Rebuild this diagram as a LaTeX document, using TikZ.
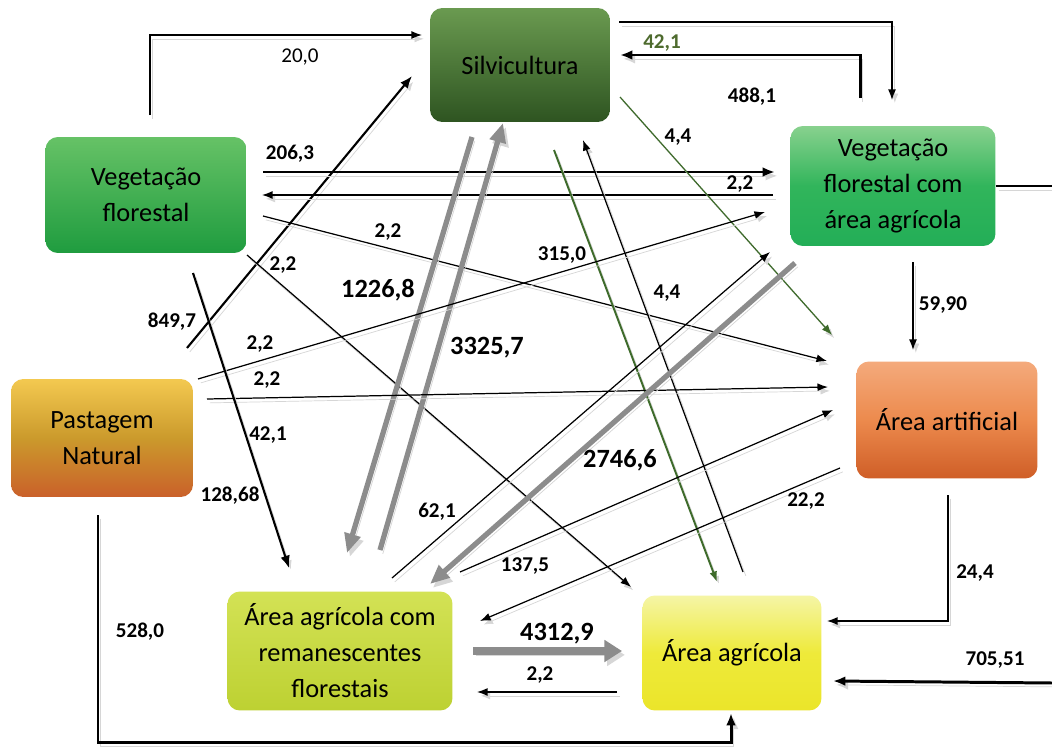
\documentclass[tikz,border=0pt]{standalone}
\usepackage{fontspec}
\setmainfont{Carlito}
\usetikzlibrary{arrows.meta}

\definecolor{silvtopo}{HTML}{6A9A50}
\definecolor{silvbase}{HTML}{2E5421}
\definecolor{vftopo}{HTML}{66C266}
\definecolor{vfbase}{HTML}{1F9C3F}
\definecolor{vfatopo}{HTML}{88D18E}
\definecolor{vfameio}{HTML}{31B55B}
\definecolor{vfabase}{HTML}{23AE57}
\definecolor{pasttopo}{HTML}{F3C950}
\definecolor{pastmeio}{HTML}{CB9A2C}
\definecolor{pastbase}{HTML}{CA602A}
\definecolor{arttopo}{HTML}{F4AA7C}
\definecolor{artmeio}{HTML}{EC8A4D}
\definecolor{artbase}{HTML}{CF5E27}
\definecolor{aremtopo}{HTML}{D3E255}
\definecolor{arembase}{HTML}{BDD132}
\definecolor{agrtopo}{HTML}{F5F5A6}
\definecolor{agrmeio}{HTML}{EEEA3A}
\definecolor{agrbase}{HTML}{EBE52A}
\definecolor{linhaverde}{HTML}{3E6B2B}
\definecolor{rotuloverde}{HTML}{4E6B2E}
\definecolor{cinzaseta}{HTML}{8C8C8C}

\tikzset{
	caixa/.style={rounded corners=7pt, align=center, inner sep=2pt, text=black,
		font=\fontsize{15}{20.5}\selectfont},
	rotulo/.style={font=\fontsize{12}{14}\selectfont\bfseries, inner sep=1pt},
	rotulogr/.style={font=\fontsize{15}{17}\selectfont\bfseries, inner sep=1pt},
	sombra/.style={preaction={draw=black!16, transform canvas={xshift=1.6pt,yshift=-2.2pt}}},
	fino/.style={sombra, line width=0.7pt, -{Latex[length=6pt,width=4.5pt]}},
	medio/.style={sombra, line width=1.2pt, -{Latex[length=7pt,width=5.5pt]}},
	grosso/.style={sombra, line width=1.7pt, -{Latex[length=7pt,width=5.5pt]}},
	verde/.style={fino, draw=linhaverde},
	cinza/.style={sombra, draw=cinzaseta, line width=3pt, -{Triangle[length=11pt,width=9pt]}},
}

\begin{document}
\begin{tikzpicture}[x=0.02cm, y=-0.02cm]
	\path[use as bounding box, fill=white] (0,0) rectangle (1052,747);

	% classes de uso
	\node[caixa, minimum width=3.6cm, minimum height=2.28cm, top color=silvtopo, bottom color=silvbase] (silv) at (520,65) {Silvicultura};
	\node[caixa, minimum width=4.02cm, minimum height=2.32cm, top color=vftopo, bottom color=vfbase] (vf) at (146,195) {Vegeta\c{c}\~ao\\florestal};
	\node[caixa, minimum width=4.1cm, minimum height=2.4cm, top color=vfatopo, bottom color=vfabase, middle color=vfameio] (vfa) at (893,186) {Vegeta\c{c}\~ao\\florestal com\\\'area agr\'icola};
	\node[caixa, minimum width=3.64cm, minimum height=2.36cm, top color=pasttopo, bottom color=pastbase, middle color=pastmeio] (past) at (102,438) {Pastagem\\Natural};
	\node[caixa, minimum width=3.62cm, minimum height=2.34cm, top color=arttopo, bottom color=artbase, middle color=artmeio] (art) at (947,420) {\'Area artificial};
	\node[caixa, minimum width=4.5cm, minimum height=2.38cm, top color=aremtopo, bottom color=arembase] (arem) at (340,651) {\'Area agr\'icola com\\remanescentes\\florestais};
	\node[caixa, minimum width=3.58cm, minimum height=2.3cm, top color=agrtopo, bottom color=agrbase, middle color=agrmeio] (agr) at (732,653) {\'Area agr\'icola};

	% pontas dos fluxos
	\coordinate (a20) at (150,115);   \coordinate (b20) at (422,35);
	\coordinate (a849) at (187,348);  \coordinate (b849) at (412,76);
	\coordinate (a206) at (263,172);  \coordinate (b206) at (775,172);
	\coordinate (a22v) at (773,195);  \coordinate (b22v) at (262,195);
	\coordinate (a22r) at (263,216);  \coordinate (b22r) at (827,361);
	\coordinate (a22g) at (247,255);  \coordinate (b22g) at (631,587);
	\coordinate (a1226) at (472,137); \coordinate (b1226) at (347,553);
	\coordinate (a3325) at (380,550); \coordinate (b3325) at (503,123);
	\coordinate (a421) at (860,98);   \coordinate (b421) at (620,55);
	\coordinate (a488) at (619,22);   \coordinate (b488) at (892,100);
	\coordinate (a44v) at (620,97);   \coordinate (b44v) at (832,335);
	\coordinate (asg) at (554,150);   \coordinate (bsg) at (717,582);
	\coordinate (a44p) at (743,572);  \coordinate (b44p) at (583,140);
	\coordinate (a315) at (198,379);  \coordinate (b315) at (765,212);
	\coordinate (a22h) at (207,399);  \coordinate (b22h) at (828,387);
	\coordinate (a128) at (193,273);  \coordinate (b128) at (289,568);
	\coordinate (a621) at (392,578);  \coordinate (b621) at (770,252);
	\coordinate (a2746) at (795,263); \coordinate (b2746) at (430,584);
	\coordinate (a222) at (840,468);  \coordinate (b222) at (480,621);
	\coordinate (a137) at (460,572);  \coordinate (b137) at (833,410);
	\coordinate (a4312) at (473,651); \coordinate (b4312) at (622,651);
	\coordinate (a22b) at (617,692);  \coordinate (b22b) at (477,692);
	\coordinate (a528) at (98,515);   \coordinate (k528) at (731,742); \coordinate (b528) at (731,713);
	\coordinate (a244) at (948,495);  \coordinate (b244) at (827,621);
	\coordinate (a705) at (1052,683); \coordinate (b705) at (833,681);
	\coordinate (a599) at (913,262);  \coordinate (b599) at (913,350);
	\coordinate (borda) at (1052,186);

	% fluxos
	\draw[fino] (a20) |- (b20);
	\draw[medio] (a849) -- (b849);
	\draw[grosso] (a206) -- (b206);
	\draw[fino] (a22v) -- (b22v);
	\draw[fino] (a22r) -- (b22r);
	\draw[fino] (a22g) -- (b22g);
	\draw[cinza] (a1226) -- (b1226);
	\draw[cinza] (a3325) -- (b3325);
	\draw[grosso] (a421) |- (b421);
	\draw[fino] (a488) -| (b488);
	\draw[verde] (a44v) -- (b44v);
	\draw[verde, line width=1.1pt] (asg) -- (bsg);
	\draw[fino] (a44p) -- (b44p);
	\draw[fino] (a315) -- (b315);
	\draw[fino] (a22h) -- (b22h);
	\draw[medio] (a128) -- (b128);
	\draw[fino] (a621) -- (b621);
	\draw[cinza] (a2746) -- (b2746);
	\draw[fino] (a222) -- (b222);
	\draw[fino] (a137) -- (b137);
	\draw[cinza, line width=4.5pt, -{Triangle[length=10pt,width=12pt]}] (a4312) -- (b4312);
	\draw[fino] (a22b) -- (b22b);
	\draw[grosso] (a528) |- (k528) -- (b528);
	\draw[fino] (a244) |- (b244);
	\draw[grosso] (a705) -- (b705);
	\draw[fino] (a599) -- (b599);
	\draw[grosso, -] (vfa.east) -- (borda);

	% valores
	\node[rotulo, font=\fontsize{12}{14}\selectfont] (l20) at (300,57) {20,0};
	\node[rotulo] (l849) at (172,322) {849,7};
	\node[rotulo] (l206) at (290,154) {206,3};
	\node[rotulo] (l22v) at (740,184) {2,2};
	\node[rotulo] (l22r) at (388,232) {2,2};
	\node[rotulo] (l22g) at (283,265) {2,2};
	\node[rotulogr] (l1226) at (378,290) {1226,8};
	\node[rotulogr] (l3325) at (487,348) {3325,7};
	\node[rotulo, text=rotuloverde] (l421) at (662,43) {42,1};
	\node[rotulo] (l488) at (752,97) {488,1};
	\node[rotulo] (l44v) at (678,137) {4,4};
	\node[rotulo] (l44p) at (667,293) {4,4};
	\node[rotulo] (l315) at (562,255) {315,0};
	\node[rotulo] (l22a) at (260,344) {2,2};
	\node[rotulo] (l22h) at (267,380) {2,2};
	\node[rotulo] (l421b) at (268,435) {42,1};
	\node[rotulo] (l128) at (230,496) {128,68};
	\node[rotulo] (l621) at (437,512) {62,1};
	\node[rotulogr] (l2746) at (620,460) {2746,6};
	\node[rotulo] (l222) at (806,501) {22,2};
	\node[rotulo] (l137) at (525,566) {137,5};
	\node[rotulogr] (l4312) at (557,634) {4312,9};
	\node[rotulo] (l22b) at (540,675) {2,2};
	\node[rotulo] (l528) at (140,632) {528,0};
	\node[rotulo] (l244) at (975,573) {24,4};
	\node[rotulo] (l705) at (995,660) {705,51};
	\node[rotulo] (l599) at (943,305) {59,90};
\end{tikzpicture}
\end{document}
